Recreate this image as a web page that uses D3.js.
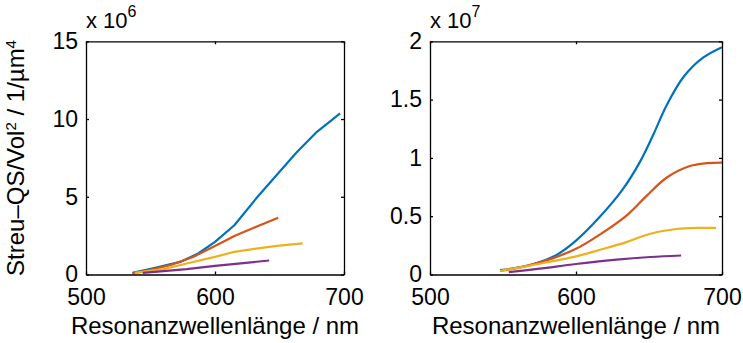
<!DOCTYPE html>
<html>
<head>
<meta charset="utf-8">
<script src="https://cdn.jsdelivr.net/npm/d3@7"></script>
<style>
  html, body { margin: 0; padding: 0; background: #fff; }
  svg { display: block; font-family: "Liberation Sans", Arial, Helvetica, sans-serif; }
  .axis path, .axis line { stroke: #000; stroke-width: 1.3; }
  .axis text { fill: #000; font-size: 23px; }
</style>
</head>
<body>
<svg id="chart" width="743" height="343"></svg>
<script>
// Scattering cross-section per volume² vs. resonance wavelength, two particle sets.
const colors = ["#0072BD", "#D95319", "#EDB120", "#7E2F8E"];

// Left panel (values ×10^6)
const leftBlueWl   = [536, 552, 573, 587, 600, 615, 632, 648, 663, 679, 697];
const leftBlueVal  = [0.10, 0.39, 0.81, 1.35, 2.10, 3.17, 4.90, 6.42, 7.83, 9.18, 10.37];
const leftOrangeWl  = [536, 550, 565, 583, 600, 615, 632, 649];
const leftOrangeVal = [0.07, 0.30, 0.60, 1.13, 1.84, 2.47, 3.07, 3.65];
const leftYellowWl  = [538, 560, 578, 600, 615, 632, 648, 668];
const leftYellowVal = [0.10, 0.35, 0.71, 1.13, 1.46, 1.67, 1.84, 2.00];
const leftPurpleWl  = [544, 560, 578, 600, 620, 642];
const leftPurpleVal = [0.10, 0.22, 0.34, 0.55, 0.72, 0.90];

// Right panel (values ×10^7)
const rightBlueWl   = [548, 560, 571, 587, 600, 616, 632, 644, 653, 662, 674, 687, 700];
const rightBlueVal  = [0.037, 0.06, 0.09, 0.17, 0.29, 0.49, 0.73, 0.97, 1.20, 1.45, 1.70, 1.86, 1.95];
const rightOrangeWl  = [548, 565, 582, 600, 616, 635, 648, 662, 678, 690, 700];
const rightOrangeVal = [0.03, 0.07, 0.13, 0.22, 0.34, 0.51, 0.67, 0.83, 0.93, 0.955, 0.96];
const rightYellowWl  = [548, 570, 600, 616, 635, 651, 669, 685, 696];
const rightYellowVal = [0.03, 0.08, 0.155, 0.21, 0.28, 0.35, 0.39, 0.40, 0.40];
const rightPurpleWl  = [554, 575, 600, 628, 651, 672];
const rightPurpleVal = [0.02, 0.05, 0.09, 0.128, 0.15, 0.163];

const xTicks = [500, 600, 700];
const leftYTicks = [0, 5, 10, 15];
const rightYTicks = [0, 0.5, 1, 1.5, 2];

const xLabel = "Resonanzwellenlänge / nm";

const svg = d3.select("#chart");

function panel(opts) {
  const x = d3.scaleLinear().domain([500, 700]).range([opts.x0, opts.x1]);
  const y = d3.scaleLinear().domain(opts.yDomain).range([274.5, 41.3]);
  const g = svg.append("g");

  // series
  const line = d3.line().x(d => x(d[0])).y(d => y(d[1])).curve(opts.curve);
  opts.series.forEach((s, i) => {
    g.append("path")
      .datum(d3.zip(s[0], s[1]))
      .attr("fill", "none")
      .attr("stroke", colors[i])
      .attr("stroke-width", 2.2)
      .attr("stroke-linejoin", "round")
      .attr("d", line);
  });

  // axes with inward ticks on all four sides
  g.append("g").attr("class", "axis")
    .attr("transform", `translate(0,${y.range()[0]})`)
    .call(d3.axisBottom(x).tickValues(xTicks).tickSizeInner(-3).tickSizeOuter(0).tickPadding(14));
  g.append("g").attr("class", "axis")
    .attr("transform", `translate(0,${y.range()[1]})`)
    .call(d3.axisTop(x).tickValues(xTicks).tickSizeInner(-3).tickSizeOuter(0).tickFormat(""));
  g.append("g").attr("class", "axis")
    .attr("transform", `translate(${opts.x0},0)`)
    .call(d3.axisLeft(y).tickValues(opts.yTicks).tickSizeInner(-3).tickSizeOuter(0).tickPadding(8).tickFormat(d3.format("")));
  g.append("g").attr("class", "axis")
    .attr("transform", `translate(${opts.x1},0)`)
    .call(d3.axisRight(y).tickValues(opts.yTicks).tickSizeInner(-3).tickSizeOuter(0).tickFormat(""));

  // exponent annotation
  const ex = g.append("text").attr("x", opts.x0).attr("y", 28).attr("font-size", 22);
  ex.append("tspan").text("x 10");
  ex.append("tspan").attr("dy", -11).attr("font-size", 16).text(opts.exponent);

  // x label
  g.append("text")
    .attr("x", (opts.x0 + opts.x1) / 2).attr("y", 334)
    .attr("text-anchor", "middle").attr("font-size", 24)
    .text(xLabel);
  return { x, y };
}

panel({
  x0: 86, x1: 344, yDomain: [0, 15], yTicks: leftYTicks, exponent: "6",
  curve: d3.curveLinear,
  series: [[leftBlueWl, leftBlueVal], [leftOrangeWl, leftOrangeVal],
           [leftYellowWl, leftYellowVal], [leftPurpleWl, leftPurpleVal]]
});
panel({
  x0: 430, x1: 722, yDomain: [0, 2], yTicks: rightYTicks, exponent: "7",
  curve: d3.curveCatmullRom,
  series: [[rightBlueWl, rightBlueVal], [rightOrangeWl, rightOrangeVal],
           [rightYellowWl, rightYellowVal], [rightPurpleWl, rightPurpleVal]]
});

// y label of the left panel
const yl = svg.append("text")
  .attr("transform", "translate(24,158) rotate(-90)")
  .attr("text-anchor", "middle").attr("font-size", 24);
yl.append("tspan").text("Streu\u2013QS/Vol");
yl.append("tspan").attr("dy", -8).attr("font-size", 15).text("2");
yl.append("tspan").attr("dy", 8).text(" / 1/\u00B5m");
yl.append("tspan").attr("dy", -8).attr("font-size", 15).text("4");
</script>
</body>
</html>
